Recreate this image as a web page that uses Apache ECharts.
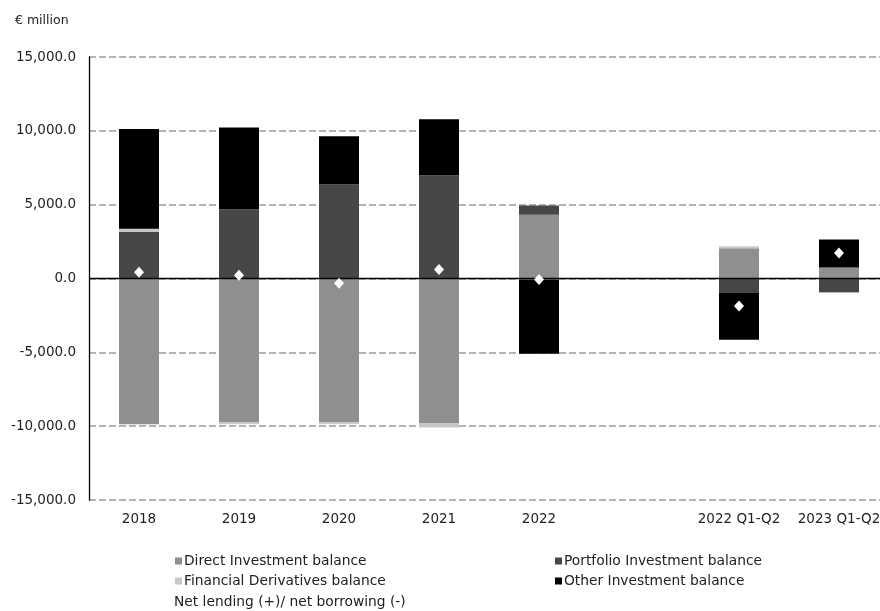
<!DOCTYPE html>
<html><head><meta charset="utf-8">
<script src="https://cdn.jsdelivr.net/npm/echarts@6/dist/echarts.min.js"></script>
<style>html,body{margin:0;padding:0;background:#fff;overflow:hidden}#c{width:900px;height:611px}</style>
</head><body><div id="c"></div>
<script>
const categories = ['2018','2019','2020','2021','2022','','2022 Q1-Q2','2023 Q1-Q2'];
const directInv = [-9870, -9715, -9715, -9780, 4310, null, 2050, 745];
const portfolioInv = [3157, 4695, 6390, 7000, 635, null, -975, -950];
const derivatives = [220, -160, -160, -310, -60, null, 135, -30];
const otherInv = [6755, 5535, 3250, 3780, -5040, null, -3175, 1900];
const netLending = [430, 225, -320, 610, -70, null, -1855, 1735];
const yTicks = {min: -15000, max: 15000, interval: 5000};

const FONT = 'DejaVu Sans';
const chart = echarts.init(document.getElementById('c'), null, {renderer: 'canvas'});
const barCommon = {type: 'bar', stack: 'total', barWidth: 40};
const legText = {fontSize: 13.8, color: '#222', fontFamily: FONT, padding: [0,0,0,-3]};
chart.setOption({
  animation: false,
  textStyle: {fontFamily: FONT},
  title: {text: '€ million', left: 10, top: 9, textStyle: {fontSize: 12.5, fontWeight: 'normal', color: '#222', fontFamily: FONT}},
  grid: {left: 89, top: 57, width: 800, bottom: 111, containLabel: false},
  legend: [
    {left: 170, top: 549, orient: 'vertical', itemGap: 6, itemWidth: 7, itemHeight: 7, icon: 'rect',
     textStyle: legText,
     data: ['Direct Investment balance', 'Financial Derivatives balance']},
    {left: 550, top: 549, orient: 'vertical', itemGap: 6, itemWidth: 7, itemHeight: 7, icon: 'rect',
     textStyle: legText,
     data: ['Portfolio Investment balance', 'Other Investment balance']},
    {left: 157, top: 590, itemWidth: 7, itemHeight: 7,
     textStyle: {fontSize: 13.8, color: '#222', fontFamily: FONT},
     data: [{name: 'Net lending (+)/ net borrowing (-)', icon: 'diamond'}]}
  ],
  xAxis: {type: 'category', data: categories,
    axisLine: {show: false, onZero: false}, axisTick: {show: false},
    axisLabel: {color: '#222', fontSize: 13.5, margin: 12, interval: 0, fontFamily: FONT}},
  yAxis: {type: 'value', min: yTicks.min, max: yTicks.max, interval: yTicks.interval,
    axisLine: {show: true, lineStyle: {color: '#000', width: 1.3}},
    axisTick: {show: false},
    axisLabel: {color: '#222', fontSize: 13.5, margin: 13, fontFamily: FONT,
      formatter: v => v.toLocaleString('en-US', {minimumFractionDigits: 1, maximumFractionDigits: 1})},
    splitLine: {show: true, lineStyle: {color: '#9a9a9a', width: 1.5, type: [7, 3]}}},
  series: [
    Object.assign({name: 'Direct Investment balance', data: directInv, itemStyle: {color: '#8f8f8f'},
      markLine: {silent: true, symbol: 'none', label: {show: false},
        lineStyle: {color: '#000', type: 'solid', width: 1.3}, data: [{yAxis: 0}]}}, barCommon),
    Object.assign({name: 'Portfolio Investment balance', data: portfolioInv, itemStyle: {color: '#474747'}}, barCommon),
    Object.assign({name: 'Financial Derivatives balance', data: derivatives, itemStyle: {color: '#c8c8c8'}}, barCommon),
    Object.assign({name: 'Other Investment balance', data: otherInv, itemStyle: {color: '#000000'}}, barCommon),
    {name: 'Net lending (+)/ net borrowing (-)', type: 'scatter', data: netLending, symbol: 'diamond',
      symbolSize: [10, 11], itemStyle: {color: '#ffffff', opacity: 1}, z: 10}
  ]
});
</script></body></html>
